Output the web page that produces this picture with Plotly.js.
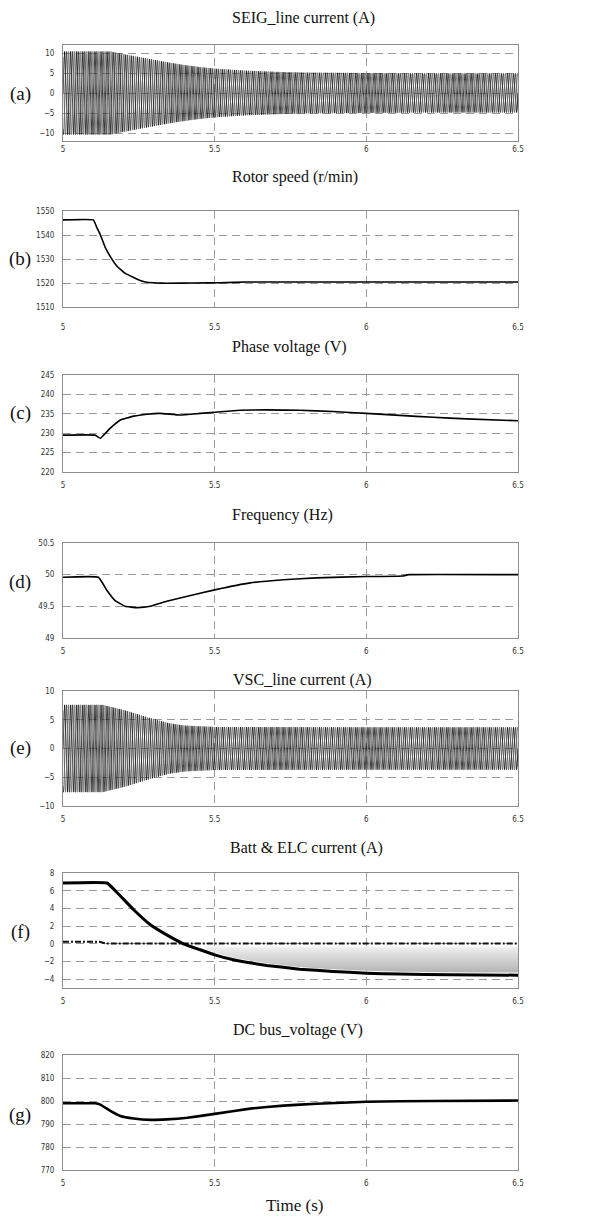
<!DOCTYPE html>
<html>
<head>
<meta charset="utf-8">
<script src="https://cdn.plot.ly/plotly-3.0.1.min.js"></script>
<style>html,body{margin:0;padding:0;background:#fff;}#chart{width:589px;height:1219px;}</style>
</head>
<body>
<div id="chart"></div>
<script>
// ---------------- data ----------------
var xTicks = [5, 5.5, 6, 6.5];
var xTickText = ['5', '5.5', '6', '6.5'];

// (a) SEIG line current: amplitude envelope of 50 Hz 3-phase currents
var seigEnvT = [5.0, 5.156, 5.2, 5.25, 5.3, 5.35, 5.4, 5.45, 5.5, 5.6, 5.7, 5.8, 6.0, 6.2, 6.5];
var seigEnvA = [10.4, 10.4, 9.7, 9.0, 8.3, 7.6, 7.0, 6.5, 6.1, 5.6, 5.3, 5.1, 5.0, 4.9, 4.9];

// (b) Rotor speed (r/min)
var speedT = [5.0, 5.10, 5.112, 5.123, 5.139, 5.156, 5.178, 5.205, 5.233, 5.26, 5.277, 5.31, 5.342, 5.43, 5.52, 5.606, 6.0, 6.5];
var speedV = [1546.3, 1546.3, 1543, 1540.1, 1534.9, 1531, 1527, 1524, 1522.3, 1520.8, 1520.3, 1520.0, 1519.9, 1520.0, 1520.1, 1520.4, 1520.4, 1520.4];

// (c) Phase voltage (V)
var voltT = [5.0, 5.106, 5.123, 5.156, 5.189, 5.233, 5.277, 5.32, 5.386, 5.452, 5.5, 5.584, 5.67, 5.78, 5.89, 6.0, 6.11, 6.22, 6.33, 6.5];
var voltV = [229.5, 229.5, 228.7, 231.3, 233.4, 234.4, 234.9, 235.1, 234.7, 235.1, 235.4, 235.9, 236.0, 235.9, 235.6, 235.1, 234.6, 234.1, 233.7, 233.2];

// (d) Frequency (Hz)
var freqT = [5.0, 5.117, 5.145, 5.172, 5.205, 5.244, 5.288, 5.342, 5.41, 5.5, 5.617, 5.727, 5.836, 6.0, 6.12, 6.14, 6.5];
var freqV = [49.96, 49.96, 49.75, 49.59, 49.50, 49.48, 49.50, 49.58, 49.66, 49.76, 49.87, 49.92, 49.95, 49.97, 49.98, 50.0, 50.0];

// (e) VSC line current: amplitude envelope
var vscEnvT = [5.0, 5.13, 5.2, 5.25, 5.3, 5.35, 5.4, 5.5, 6.0, 6.5];
var vscEnvA = [7.6, 7.6, 6.7, 5.9, 5.1, 4.4, 4.0, 3.75, 3.7, 3.7];

// (f) Battery current (solid) and ELC current (dash-dot)
var battT = [5.0, 5.145, 5.178, 5.233, 5.288, 5.342, 5.397, 5.452, 5.5, 5.562, 5.672, 5.78, 5.89, 6.0, 6.11, 6.276, 6.5];
var battV = [6.87, 6.87, 5.8, 3.85, 2.15, 1.0, 0.0, -0.68, -1.25, -1.81, -2.45, -2.87, -3.13, -3.32, -3.43, -3.51, -3.55];
var elcT = [5.0, 5.12, 5.14, 6.5];
var elcV = [0.23, 0.23, 0.03, 0.03];
// grey shaded band under the ELC line
var shadeT = [5.47, 5.5, 5.562, 5.672, 5.78, 5.89, 6.0, 6.11, 6.276, 6.5];
var shadeTop = [-0.35, -0.35, -0.35, -0.35, -0.35, -0.35, -0.35, -0.35, -0.35, -0.35];
var shadeBottom = [-0.55, -1.0, -1.55, -2.2, -2.62, -2.88, -3.05, -3.15, -3.22, -3.25];

// (g) DC bus voltage (V)
var dcT = [5.0, 5.106, 5.123, 5.156, 5.189, 5.233, 5.288, 5.342, 5.41, 5.5, 5.617, 5.727, 5.836, 6.0, 6.22, 6.5];
var dcV = [799.0, 799.0, 798.4, 795.7, 793.5, 792.4, 791.8, 792.0, 792.7, 794.4, 796.7, 798.0, 798.8, 799.7, 800.0, 800.2];

var gridFreq = 50; // Hz, system frequency of the AC currents

// ---------------- helpers ----------------
function interp(t, T, V) {
  if (t <= T[0]) return V[0];
  for (var i = 1; i < T.length; i++) {
    if (t <= T[i]) { var f = (t - T[i-1]) / (T[i] - T[i-1]); return V[i-1] + f * (V[i] - V[i-1]); }
  }
  return V[V.length - 1];
}
function threePhase(envT, envA, xa, ya) {
  var out = [];
  var dt = 0.0004;
  var colors = ['#000', '#2a2a2a', '#666'];
  for (var k = 0; k < 3; k++) {
    var xs = [], ys = [];
    for (var t = 5.0; t <= 6.5 + 1e-9; t += dt) {
      xs.push(t);
      ys.push(interp(t, envT, envA) * Math.sin(2 * Math.PI * gridFreq * t - k * 2 * Math.PI / 3));
    }
    out.push({x: xs, y: ys, xaxis: xa, yaxis: ya, type: 'scatter', mode: 'lines',
      line: {color: colors[k], width: 0.75}, hoverinfo: 'skip', showlegend: false});
  }
  return out;
}

// ---------------- layout geometry ----------------
var W = 589, H = 1219;
var xl = 63 / W, xr = 518 / W;
var panels = [ // top, bottom px, yrange, ticks, standoff
  {t: 45,   b: 141,  r: [-12, 12],    tv: [-10, -5, 0, 5, 10], so: 0},
  {t: 211,  b: 307,  r: [1510, 1550], tv: [1510, 1520, 1530, 1540, 1550], so: 12},
  {t: 375,  b: 472,  r: [220, 245],   tv: [220, 225, 230, 235, 240, 245], so: 5},
  {t: 543,  b: 638,  r: [49, 50.5],   tv: [49, 49.5, 50, 50.5], so: 5},
  {t: 691,  b: 806,  r: [-10, 10],    tv: [-10, -5, 0, 5, 10], so: 5},
  {t: 873,  b: 988,  r: [-5, 8],      tv: [-4, -2, 0, 2, 4, 6, 8], so: 5},
  {t: 1055, b: 1170, r: [770, 820],   tv: [770, 780, 790, 800, 810, 820], so: 5}
];
var tickFont = {family: 'Liberation Sans Narrow, DejaVu Sans Condensed, Liberation Sans, sans-serif', size: 8, color: '#333'};
var layout = {
  width: W, height: H, autosize: false,
  margin: {l: 0, r: 0, t: 0, b: 0},
  paper_bgcolor: '#fff', plot_bgcolor: '#fff',
  showlegend: false,
  annotations: [], shapes: []
};
panels.forEach(function (p, i) {
  var n = i === 0 ? '' : String(i + 1);
  layout['xaxis' + n] = {
    domain: [xl, xr], range: [5, 6.5], anchor: 'y' + n,
    tickvals: xTicks, ticktext: xTickText, ticks: '',
    showgrid: true, griddash: '8px,5px', gridcolor: '#9a9a9a', gridwidth: 1,
    showline: true, mirror: true, linecolor: '#8c8c8c', linewidth: 1,
    zeroline: false, tickfont: tickFont, ticklabelstandoff: p.so, fixedrange: true
  };
  layout['yaxis' + n] = {
    domain: [1 - p.b / H, 1 - p.t / H], range: p.r, anchor: 'x' + n,
    tickvals: p.tv, ticks: '',
    showgrid: true, griddash: '8px,5px', gridcolor: '#9a9a9a', gridwidth: 1,
    showline: true, mirror: true, linecolor: '#8c8c8c', linewidth: 1,
    zeroline: false, tickfont: tickFont, ticklabelstandoff: 6, fixedrange: true
  };
});

var titles = [
  {text: 'SEIG_line current (A)', x: 303, y: 18},
  {text: 'Rotor speed (r/min)', x: 295, y: 177},
  {text: 'Phase voltage (V)', x: 289, y: 347},
  {text: 'Frequency (Hz)', x: 282, y: 515},
  {text: 'VSC_line current (A)', x: 302, y: 680},
  {text: 'Batt &amp; ELC current (A)', x: 306, y: 848},
  {text: 'DC bus_voltage (V)', x: 298, y: 1030},
  {text: 'Time (s)', x: 294, y: 1205}
];
titles.forEach(function (a, i) {
  layout.annotations.push({text: a.text, xref: 'paper', yref: 'paper', x: a.x / W, y: 1 - a.y / H,
    xanchor: 'center', yanchor: 'middle', showarrow: false,
    font: {family: 'Liberation Serif, Times New Roman, serif', size: i === 7 ? 17 : 16, color: '#111'}});
});
var labels = [['(a)', 94], ['(b)', 259], ['(c)', 413], ['(d)', 582], ['(e)', 748], ['(f)', 932], ['(g)', 1115]];
labels.forEach(function (l) {
  layout.annotations.push({text: l[0], xref: 'paper', yref: 'paper', x: 20 / W, y: 1 - l[1] / H,
    xanchor: 'center', yanchor: 'middle', showarrow: false,
    font: {family: 'Liberation Serif, Times New Roman, serif', size: 19, color: '#111'}});
});

// ---------------- traces ----------------
var smooth = {shape: 'spline', smoothing: 0.3};
function lineStyle(w) { return {color: '#000', width: w, shape: smooth.shape, smoothing: smooth.smoothing}; }
var data = [];
data = data.concat(threePhase(seigEnvT, seigEnvA, 'x', 'y'));
data.push({x: speedT, y: speedV, xaxis: 'x2', yaxis: 'y2', type: 'scatter', mode: 'lines', line: lineStyle(1.6)});
data.push({x: voltT, y: voltV, xaxis: 'x3', yaxis: 'y3', type: 'scatter', mode: 'lines', line: lineStyle(1.6)});
data.push({x: freqT, y: freqV, xaxis: 'x4', yaxis: 'y4', type: 'scatter', mode: 'lines', line: lineStyle(1.6)});
data = data.concat(threePhase(vscEnvT, vscEnvA, 'x5', 'y5'));
data.push({x: shadeT, y: shadeTop, xaxis: 'x6', yaxis: 'y6', type: 'scatter', mode: 'lines',
  line: {width: 0, color: 'rgba(0,0,0,0)', shape: 'spline'}, hoverinfo: 'skip'});
data.push({x: shadeT, y: shadeBottom, xaxis: 'x6', yaxis: 'y6', type: 'scatter', mode: 'lines',
  line: {width: 0, color: 'rgba(0,0,0,0)', shape: 'spline'}, fill: 'tonexty',
  fillcolor: 'rgba(200,200,200,0.8)',
  fillgradient: {type: 'vertical', start: -3.2, stop: -0.35, colorscale: [[0, '#b4b4b4'], [1, '#f0f0f0']]},
  hoverinfo: 'skip'});
data.push({x: elcT, y: elcV, xaxis: 'x6', yaxis: 'y6', type: 'scatter', mode: 'lines',
  line: {color: '#111', width: 2, dash: '6px,2px,2px,2px'}});
data.push({x: battT, y: battV, xaxis: 'x6', yaxis: 'y6', type: 'scatter', mode: 'lines', line: lineStyle(3)});
data.push({x: dcT, y: dcV, xaxis: 'x7', yaxis: 'y7', type: 'scatter', mode: 'lines', line: lineStyle(2.6)});

Plotly.newPlot('chart', data, layout, {staticPlot: true, displayModeBar: false});
</script>
</body>
</html>
